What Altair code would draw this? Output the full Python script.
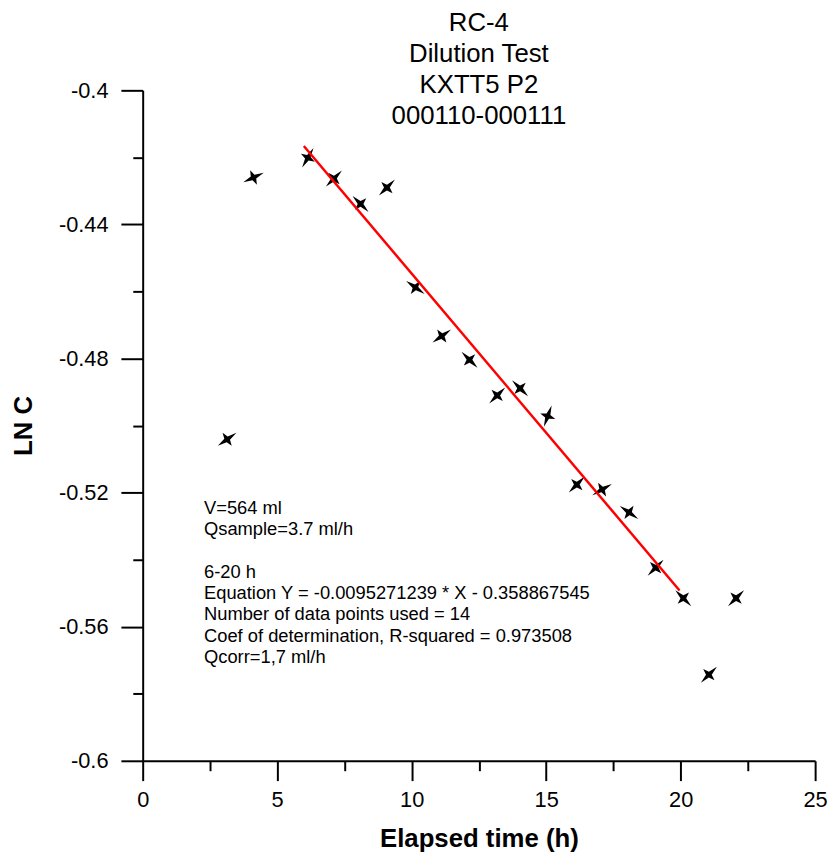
import altair as alt
import pandas as pd

# ---- data ----
time_h = [3.14, 4.12, 6.14, 7.11, 8.10, 9.08, 10.14, 11.12, 12.15, 13.18,
          14.03, 15.06, 16.14, 17.08, 18.08, 19.07, 20.10, 21.05, 22.06]
ln_c = [-0.5041, -0.4260, -0.4201, -0.4263, -0.4339, -0.4290, -0.4588, -0.4733,
        -0.4804, -0.4910, -0.4889, -0.4972, -0.5176, -0.5191, -0.5259, -0.5424,
        -0.5515, -0.5743, -0.5515]
marker_angle = [10, 20, 345, 0, 90, 0, 80, 10, 90, 0,
                90, 335, 0, 15, 80, 0, 90, 0, 0]

fit_time = [5.99, 19.96]
fit_lnc = [-0.4166, -0.5492]

title_lines = ["RC-4", "Dilution Test", "KXTT5 P2", "000110-000111"]
note_lines_a = ["V=564 ml", "Qsample=3.7 ml/h"]
note_lines_b = [
    "6-20 h",
    "Equation Y = -0.0095271239 * X - 0.358867545",
    "Number of data points used = 14",
    "Coef of determination, R-squared = 0.973508",
    "Qcorr=1,7 ml/h",
]
note_a_pos = (2.28, -0.5218)
note_b_pos = (2.28, -0.5409)

x_major = [0, 5, 10, 15, 20, 25]
x_minor = [2.5, 7.5, 12.5, 17.5, 22.5]
y_major = [-0.6, -0.56, -0.52, -0.48, -0.44, -0.4]
y_minor = [-0.58, -0.54, -0.5, -0.46, -0.42]

FONT = "Liberation Sans"

pts = pd.DataFrame({"t": time_h, "lnc": ln_c, "ang": marker_angle})
fit = pd.DataFrame({"t": fit_time, "lnc": fit_lnc})
notes_a = pd.DataFrame({"t": [note_a_pos[0]], "lnc": [note_a_pos[1]]})
notes_b = pd.DataFrame({"t": [note_b_pos[0]], "lnc": [note_b_pos[1]]})
one = pd.DataFrame({"k": [0]})

sx = alt.Scale(domain=[0, 25], nice=False, zero=False)
sy = alt.Scale(domain=[-0.6, -0.4], nice=False, zero=False)

common_axis = dict(domainColor="black", domainWidth=2, tickColor="black",
                   tickWidth=2, grid=False, labelColor="black", labelFont=FONT,
                   titleFont=FONT, titleColor="black", titleFontWeight="bold",
                   titleFontSize=26, labelFontSize=22, labelFlush=False,
                   labelOverlap=False)

x_axis_major = alt.Axis(values=x_major, orient="bottom", tickSize=20,
                        labelPadding=9, title="Elapsed time (h)",
                        titlePadding=16, labelExpr="toString(datum.value)",
                        **common_axis)
y_axis_major = alt.Axis(values=y_major, orient="left", tickSize=22,
                        labelPadding=13, title="LN C", titlePadding=22,
                        labelExpr="toString(datum.value)", **common_axis)

x_axis_minor = alt.Axis(values=x_minor, orient="bottom", tickSize=10,
                        tickWidth=2, tickColor="black", labels=False,
                        domain=False, grid=False, title=None)
y_axis_minor = alt.Axis(values=y_minor, orient="left", tickSize=10,
                        tickWidth=2, tickColor="black", labels=False,
                        domain=False, grid=False, title=None)

# bold four-pointed star: two long spikes on one diagonal, two shorter ones
star = ("M0.78,-0.78 L0.28,0 L0.55,0.55 L0,0.28 L-0.78,0.78 "
        "L-0.28,0 L-0.55,-0.55 L0,-0.28 Z")

minor_layer = alt.Chart(pts).mark_point(opacity=0).encode(
    x=alt.X("t:Q", scale=sx, axis=x_axis_minor),
    y=alt.Y("lnc:Q", scale=sy, axis=y_axis_minor),
)

point_layer = alt.Chart(pts).mark_point(
    shape=star, filled=True, size=430, color="black", opacity=1,
    strokeWidth=0
).encode(
    x=alt.X("t:Q", scale=sx, axis=x_axis_major),
    y=alt.Y("lnc:Q", scale=sy, axis=y_axis_major),
    angle=alt.Angle("ang:Q", scale=None),
)

line_layer = alt.Chart(fit).mark_line(color="#ff0000", strokeWidth=2.5).encode(
    x=alt.X("t:Q", scale=sx, axis=None),
    y=alt.Y("lnc:Q", scale=sy, axis=None),
)


def note(df, lines):
    return alt.Chart(df).mark_text(
        text=lines, align="left", baseline="top", font=FONT,
        fontSize=18.5, lineHeight=21.6, color="black"
    ).encode(
        x=alt.X("t:Q", scale=sx, axis=None),
        y=alt.Y("lnc:Q", scale=sy, axis=None),
    )


title_layer = alt.Chart(one).mark_text(
    text=title_lines, align="center", baseline="top", font=FONT,
    fontSize=26, lineHeight=31.5, color="black"
).encode(
    x=alt.value(339.5),
    y=alt.value(-81.4),
)

chart = alt.layer(
    minor_layer, point_layer, line_layer,
    note(notes_a, note_lines_a), note(notes_b, note_lines_b), title_layer
).resolve_axis(
    x="independent", y="independent"
).properties(
    width=679, height=677,
    autosize=alt.AutoSizeParams(type="none"),
    padding={"left": 136, "top": 79, "right": 13, "bottom": 93},
    background="white",
).configure_view(stroke=None)

chart.save("out.html", embed_options={"renderer": "svg", "actions": False})
